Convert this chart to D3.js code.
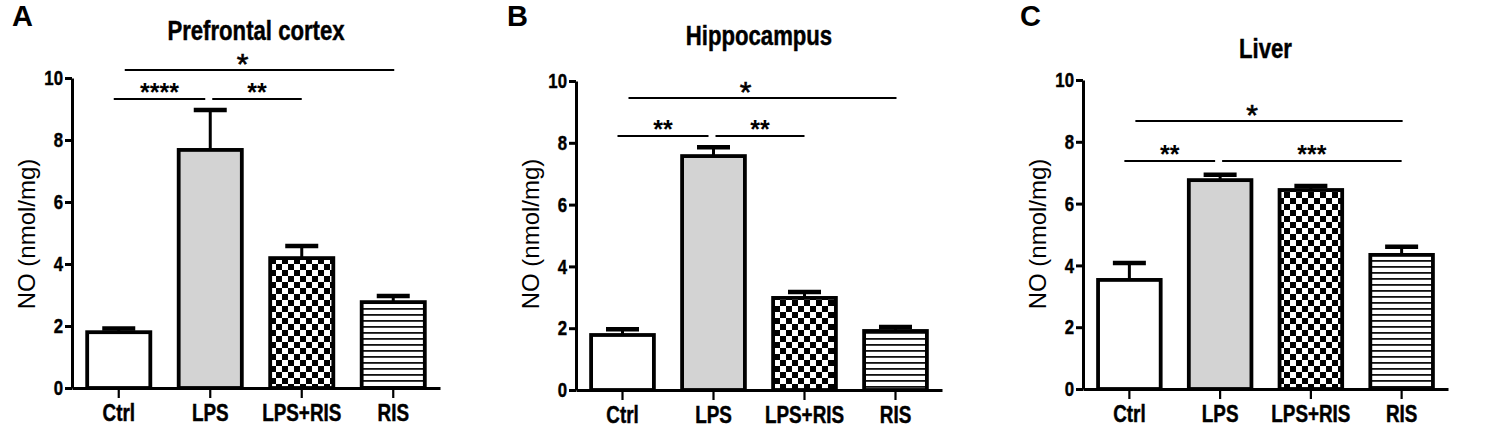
<!DOCTYPE html>
<html><head><meta charset="utf-8">
<script src="https://cdn.jsdelivr.net/npm/d3@7"></script>
<style>
html,body{margin:0;padding:0;background:#fff;}
svg{display:block;}
</style></head>
<body>
<svg id="chart" width="1501" height="436"></svg>
<script>
// ---------- data ----------
const categories = ["Ctrl", "LPS", "LPS+RIS", "RIS"];
const panelLetters = ["A", "B", "C"];
const panelTitles = ["Prefrontal cortex", "Hippocampus", "Liver"];
const yAxisLabel = "NO (nmol/mg)";
const yTicks = [0, 2, 4, 6, 8, 10];

const meanPFC = [1.8, 7.68, 4.19, 2.77];
const semPFC  = [0.12, 1.29, 0.39, 0.2];
const meanHip = [1.78, 7.57, 2.98, 1.91];
const semHip  = [0.19, 0.29, 0.19, 0.13];
const meanLiv = [3.53, 6.76, 6.44, 4.34];
const semLiv  = [0.55, 0.17, 0.13, 0.26];

// significance brackets: [fromIndex, toIndex, yValue, label]
const sigPFC = [[0, 3, 10.26, "*"], [0, 1, 9.32, "****"], [1, 2, 9.32, "**"]];
const sigHip = [[0, 3, 9.45, "*"], [0, 1, 8.22, "**"], [1, 2, 8.22, "**"]];
const sigLiv = [[0, 3, 8.67, "*"], [0, 1, 7.38, "**"], [1, 3, 7.38, "***"]];

// ---------- layout ----------
const panels = [
  {mean: meanPFC, sem: semPFC, sig: sigPFC, left: 72,   right: 440,  top: 78, bottom: 388, titleY: 40, letterX: 12},
  {mean: meanHip, sem: semHip, sig: sigHip, left: 576,  right: 942,  top: 81, bottom: 390, titleY: 45, letterX: 507},
  {mean: meanLiv, sem: semLiv, sig: sigLiv, left: 1083, right: 1448, top: 80, bottom: 389, titleY: 58, letterX: 1020}
];

const svg = d3.select("#chart");
const SANS = "Liberation Sans, Arial, Helvetica, sans-serif";

// emulate a heavy narrow bold face by compressing Liberation Sans Bold horizontally
function narrow(sel, factor) {
  sel.each(function () {
    const w = this.getComputedTextLength();
    d3.select(this).attr("textLength", w * (factor || 0.82)).attr("lengthAdjust", "spacingAndGlyphs")
      .attr("stroke", "#000").attr("stroke-width", 0.45);
  });
}

// patterns
const defs = svg.append("defs");
const chk = defs.append("pattern").attr("id", "checker").attr("patternUnits", "userSpaceOnUse")
  .attr("width", 12).attr("height", 12);
chk.append("rect").attr("width", 12).attr("height", 12).attr("fill", "#fff");
chk.append("rect").attr("width", 6).attr("height", 6).attr("fill", "#000");
chk.append("rect").attr("x", 6).attr("y", 6).attr("width", 6).attr("height", 6).attr("fill", "#000");
const str = defs.append("pattern").attr("id", "stripes").attr("patternUnits", "userSpaceOnUse")
  .attr("width", 8).attr("height", 6);
str.append("rect").attr("width", 8).attr("height", 6).attr("fill", "#fff");
str.append("rect").attr("y", 2).attr("width", 8).attr("height", 1.8).attr("fill", "#111");

const fills = ["#ffffff", "#d3d3d3", "url(#checker)", "url(#stripes)"];

panels.forEach((p, pi) => {
  const g = svg.append("g");
  const x = d3.scaleBand().domain(categories).range([p.left, p.right])
    .paddingInner(0.31).paddingOuter(0.166);
  const y = d3.scaleLinear().domain([0, 10]).range([p.bottom, p.top]);
  const cx = i => x(categories[i]) + x.bandwidth() / 2;

  // panel letter
  g.append("text").attr("x", p.letterX).attr("y", 26)
    .attr("font-family", SANS).attr("font-weight", "bold").attr("font-size", 29)
    .text(panelLetters[pi]);

  // title
  g.append("text").attr("x", (p.left + p.right) / 2).attr("y", p.titleY)
    .attr("text-anchor", "middle").attr("font-family", SANS).attr("font-weight", "bold")
    .attr("font-size", 27).text(panelTitles[pi]).call(narrow);

  // y label
  g.append("text")
    .attr("transform", `translate(${p.left - 45},${234}) rotate(-90)`)
    .attr("text-anchor", "middle").attr("dy", "0.35em")
    .attr("font-family", SANS).attr("font-size", 24).text(yAxisLabel);

  // error bars (drawn first)
  const capW = 33;
  categories.forEach((c, i) => {
    const xc = cx(i);
    g.append("line").attr("x1", xc).attr("x2", xc)
      .attr("y1", y(p.mean[i])).attr("y2", y(p.mean[i] + p.sem[i]))
      .attr("stroke", "#000").attr("stroke-width", 3);
    g.append("line").attr("x1", xc - capW / 2).attr("x2", xc + capW / 2)
      .attr("y1", y(p.mean[i] + p.sem[i])).attr("y2", y(p.mean[i] + p.sem[i]))
      .attr("stroke", "#000").attr("stroke-width", 4.5);
  });

  // bars
  g.selectAll("rect.bar").data(categories).join("rect").attr("class", "bar")
    .attr("x", d => x(d)).attr("width", x.bandwidth())
    .attr("y", (d, i) => y(p.mean[i])).attr("height", (d, i) => y(0) - y(p.mean[i]))
    .attr("fill", (d, i) => fills[i]).attr("stroke", "#000").attr("stroke-width", 3.8);

  // axes
  const ya = g.append("g").attr("transform", `translate(${p.left},0)`)
    .call(d3.axisLeft(y).tickValues(yTicks).tickSize(7).tickSizeOuter(0).tickPadding(2).tickFormat(d3.format("d")));
  ya.select(".domain").attr("stroke-width", 3);
  ya.selectAll(".tick line").attr("stroke-width", 3);
  ya.selectAll(".tick text").attr("font-family", SANS).attr("font-weight", "bold")
    .attr("font-size", 21).attr("fill", "#000").call(narrow, 0.8);

  const xa = g.append("g").attr("transform", `translate(0,${p.bottom})`)
    .call(d3.axisBottom(x).tickSize(10).tickSizeOuter(0).tickPadding(0));
  xa.select(".domain").attr("stroke-width", 3);
  xa.selectAll(".tick line").attr("stroke-width", 2.2);
  xa.selectAll(".tick text").attr("font-family", SANS).attr("font-weight", "bold")
    .attr("font-size", 23).attr("fill", "#000").attr("dy", null).attr("y", 33).call(narrow);

  // significance brackets
  p.sig.forEach(s => {
    const [a, b, v, lab] = s;
    const whole = (a === 0 && b === categories.length - 1);
    const joinsRight = p.sig.some(o => o !== s && o[2] === v && o[0] === b);
    const joinsLeft = p.sig.some(o => o !== s && o[2] === v && o[1] === a);
    let x1 = cx(a), x2 = cx(b);
    if (whole) { x1 += 6; x2 += 1; }
    else {
      if (!joinsLeft) x1 -= 5;
      if (joinsRight) x2 -= 5;
      if (joinsLeft) x1 += 2;
    }
    const ly = y(v);
    g.append("line").attr("x1", x1).attr("x2", x2).attr("y1", ly).attr("y2", ly)
      .attr("stroke", "#000").attr("stroke-width", 2);
    const single = lab.length === 1;
    const fs = single ? 30 : 25;
    const lx = (x1 + x2) / 2 - (whole ? 17 : 0);
    g.append("text").attr("x", lx).attr("y", ly - 8 + 0.40 * fs)
      .attr("text-anchor", "middle").attr("font-family", SANS)
      .attr("font-weight", single ? "normal" : "bold").attr("font-size", fs)
      .attr("stroke", single ? "#000" : "none").attr("stroke-width", single ? 0.6 : 0)
      .text(lab);
  });
});
</script>
</body></html>
